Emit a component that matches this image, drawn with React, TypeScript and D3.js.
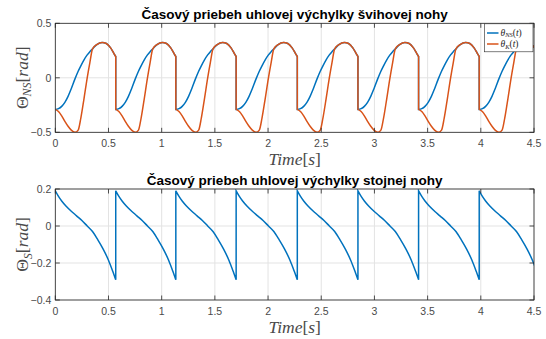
import React from "react";
import * as d3 from "d3";

// ---- data ----
const stepStarts = [0, 0.568, 1.133, 1.7, 2.275, 2.845, 3.415, 3.985];
const stepLength = 0.568;

const tauSwing = [0, 0.03, 0.06, 0.09, 0.12, 0.15, 0.185, 0.215, 0.24, 0.27, 0.3, 0.325, 0.35, 0.39, 0.44, 0.48, 0.52, 0.55, 0.568];
const thetaNS = [-0.29, -0.283, -0.262, -0.225, -0.17, -0.1, -0.01, 0.06, 0.11, 0.165, 0.21, 0.24, 0.265, 0.305, 0.325, 0.315, 0.275, 0.225, 0.195];
const thetaK = [-0.29, -0.31, -0.35, -0.4, -0.445, -0.48, -0.5, -0.48, -0.37, -0.19, 0.0, 0.14, 0.265, 0.305, 0.325, 0.315, 0.275, 0.225, 0.195];

const tauStance = [0, 0.03, 0.06, 0.1, 0.15, 0.2, 0.25, 0.3, 0.35, 0.4, 0.45, 0.5, 0.54, 0.568];
const thetaS = [0.19, 0.16, 0.135, 0.108, 0.08, 0.055, 0.03, 0.0, -0.03, -0.075, -0.125, -0.185, -0.245, -0.29];

const xTicks = [0, 0.5, 1, 1.5, 2, 2.5, 3, 3.5, 4, 4.5];
const yTicksTop = [-0.5, 0, 0.5];
const yTicksBottom = [-0.4, -0.2, 0, 0.2];

const titleTop = "Časový priebeh uhlovej výchylky švihovej nohy";
const titleBottom = "Časový priebeh uhlovej výchylky stojnej nohy";

const BLUE = "#0072BD";
const ORANGE = "#D95319";
const AX = "#262626";
const LBL = "#4a4a4a";
const GRID = "#e3e3e3";
const SANS = "'Liberation Sans', Arial, Helvetica, sans-serif";
const SERIF = "'Liberation Serif', 'Times New Roman', serif";

const W = 546;
const H = 339;
const L = 55.3;
const R = 534;

function buildPath(
  tau: number[],
  vals: number[],
  x: d3.ScaleLinear<number, number>,
  y: d3.ScaleLinear<number, number>
) {
  const line = d3
    .line<[number, number]>()
    .x((d) => x(d[0]))
    .y((d) => y(d[1]))
    .curve(d3.curveMonotoneX);
  let out = "";
  stepStarts.forEach((s, i) => {
    const dur = i < stepStarts.length - 1 ? stepStarts[i + 1] - s : stepLength;
    const k = dur / stepLength;
    const pts: [number, number][] = tau.map((t, j) => [s + t * k, vals[j]]);
    let p = line(pts) || "";
    if (i > 0) p = "L" + p.slice(1);
    out += p;
  });
  return out;
}

type AxesProps = {
  top: number;
  bottom: number;
  domain: [number, number];
  yTicks: number[];
  title: string;
  titleY: number;
  id: string;
  children: (x: d3.ScaleLinear<number, number>, y: d3.ScaleLinear<number, number>) => React.ReactNode;
  ylabel: React.ReactNode;
};

function Axes({ top, bottom, domain, yTicks, title, titleY, id, children, ylabel }: AxesProps) {
  const x = d3.scaleLinear().domain([0, 4.5]).range([L, R]);
  const y = d3.scaleLinear().domain(domain).range([bottom, top]);
  const tl = 4.5;
  const cy = (top + bottom) / 2;
  return (
    <g>
      <defs>
        <clipPath id={id}>
          <rect x={L} y={top} width={R - L} height={bottom - top} />
        </clipPath>
      </defs>
      <rect x={L} y={top} width={R - L} height={bottom - top} fill="#fff" />
      {xTicks.map((t) => (
        <line key={"gx" + t} x1={x(t)} x2={x(t)} y1={top} y2={bottom} stroke={GRID} strokeWidth={1} />
      ))}
      {yTicks.map((t) => (
        <line key={"gy" + t} x1={L} x2={R} y1={y(t)} y2={y(t)} stroke={GRID} strokeWidth={1} />
      ))}
      <g clipPath={`url(#${id})`}>{children(x, y)}</g>
      <rect x={L} y={top} width={R - L} height={bottom - top} fill="none" stroke={AX} strokeWidth={0.8} />
      {xTicks.map((t) => (
        <g key={"tx" + t}>
          <line x1={x(t)} x2={x(t)} y1={bottom} y2={bottom - tl} stroke={AX} strokeWidth={0.8} />
          <line x1={x(t)} x2={x(t)} y1={top} y2={top + tl} stroke={AX} strokeWidth={0.8} />
          <text x={x(t)} y={bottom + 14.5} textAnchor="middle" fontFamily={SANS} fontSize={10.5} fill={LBL}>
            {d3.format("")(t)}
          </text>
        </g>
      ))}
      {yTicks.map((t) => (
        <g key={"ty" + t}>
          <line x1={L} x2={L + tl} y1={y(t)} y2={y(t)} stroke={AX} strokeWidth={0.8} />
          <line x1={R} x2={R - tl} y1={y(t)} y2={y(t)} stroke={AX} strokeWidth={0.8} />
          <text x={L - 4} y={y(t) + 3.8} textAnchor="end" fontFamily={SANS} fontSize={10.5} fill={LBL}>
            {d3.format("")(t)}
          </text>
        </g>
      ))}
      <text x={(L + R) / 2} y={titleY} textAnchor="middle" fontFamily={SANS} fontWeight="bold" fontSize={13.5} fill="#000">
        {title}
      </text>
      <text x={(L + R) / 2} y={bottom + 32.5} textAnchor="middle" fontFamily={SERIF} fontSize={17.5} fill={LBL}>
        <tspan fontStyle="italic">Time</tspan>
        <tspan>[</tspan>
        <tspan fontStyle="italic">s</tspan>
        <tspan>]</tspan>
      </text>
      <text
        x={28}
        y={cy}
        transform={`rotate(-90, 28, ${cy})`}
        textAnchor="middle"
        fontFamily={SERIF}
        fontSize={17.5}
        fill={LBL}
      >
        {ylabel}
      </text>
    </g>
  );
}

export default function App() {
  return (
    <svg width={W} height={H} style={{ position: "absolute", left: 0, top: 0, background: "#fff" }}>
      <rect width={W} height={H} fill="#fff" />
      <Axes
        top={23.3}
        bottom={132.3}
        domain={[-0.5, 0.5]}
        yTicks={yTicksTop}
        title={titleTop}
        titleY={19}
        id="clipTop"
        ylabel={
          <>
            <tspan>Θ</tspan>
            <tspan fontStyle="italic" fontSize={12} dy={3.5}>NS</tspan>
            <tspan dy={-3.5}>[</tspan>
            <tspan fontStyle="italic">rad</tspan>
            <tspan>]</tspan>
          </>
        }
      >
        {(x, y) => (
          <>
            <path d={buildPath(tauSwing, thetaNS, x, y)} fill="none" stroke={BLUE} strokeWidth={1.5} />
            <path d={buildPath(tauSwing, thetaK, x, y)} fill="none" stroke={ORANGE} strokeWidth={1.5} />
          </>
        )}
      </Axes>
      <Axes
        top={189}
        bottom={300}
        domain={[-0.4, 0.2]}
        yTicks={yTicksBottom}
        title={titleBottom}
        titleY={184.5}
        id="clipBottom"
        ylabel={
          <>
            <tspan>Θ</tspan>
            <tspan fontStyle="italic" fontSize={12} dy={3.5}>S</tspan>
            <tspan dy={-3.5}>[</tspan>
            <tspan fontStyle="italic">rad</tspan>
            <tspan>]</tspan>
          </>
        }
      >
        {(x, y) => <path d={buildPath(tauStance, thetaS, x, y)} fill="none" stroke={BLUE} strokeWidth={1.5} />}
      </Axes>
      {/* legend */}
      <g>
        <rect x={484.5} y={23.8} width={48.5} height={28} fill="#fff" stroke={AX} strokeWidth={0.6} />
        <line x1={487} x2={498.5} y1={33} y2={33} stroke={BLUE} strokeWidth={1.5} />
        <line x1={487} x2={498.5} y1={44} y2={44} stroke={ORANGE} strokeWidth={1.5} />
        <text x={500.5} y={35.8} fontFamily={SERIF} fontSize={9.5} fill={AX}>
          <tspan fontStyle="italic">θ</tspan>
          <tspan fontStyle="italic" fontSize={6.5} dy={1.2}>NS</tspan>
          <tspan dy={-1.2}>(</tspan>
          <tspan fontStyle="italic">t</tspan>
          <tspan>)</tspan>
        </text>
        <text x={500.5} y={47.3} fontFamily={SERIF} fontSize={9.5} fill={AX}>
          <tspan fontStyle="italic">θ</tspan>
          <tspan fontStyle="italic" fontSize={6.5} dy={1.2}>K</tspan>
          <tspan dy={-1.2}>(</tspan>
          <tspan fontStyle="italic">t</tspan>
          <tspan>)</tspan>
        </text>
      </g>
    </svg>
  );
}
